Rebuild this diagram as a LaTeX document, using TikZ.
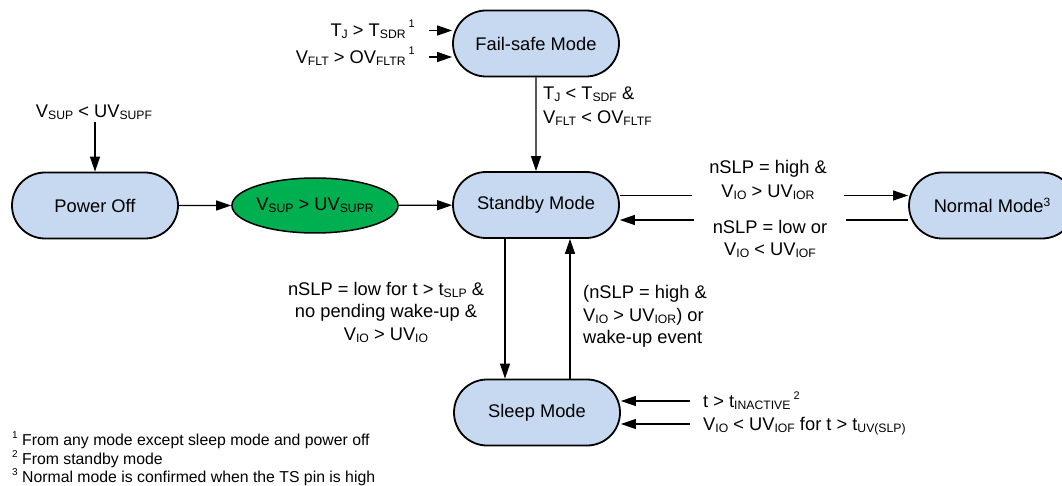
\documentclass[tikz,border=0pt]{standalone}
\usepackage{fontspec}
\setmainfont{Liberation Sans}
\usetikzlibrary{arrows.meta,shapes.misc,shapes.geometric}
\definecolor{boxblue}{HTML}{C6D9F0}
\definecolor{okgreen}{HTML}{00B050}
\newcommand\sbs[1]{\raisebox{-2pt}{\fontsize{12.2}{12}\selectfont #1}}
\newcommand\sps[1]{\raisebox{9pt}{\fontsize{11}{11}\selectfont #1}}
\newcommand\fns[1]{\raisebox{7pt}{\fontsize{10}{10}\selectfont #1}}
\begin{document}
\begin{tikzpicture}[x=1pt,y=-1pt,
  mode/.style={rounded rectangle, draw, fill=boxblue, line width=1.8pt,
    minimum width=166pt, minimum height=66pt, inner sep=0pt,
    font=\fontsize{18.3}{22}\selectfont},
  lbl/.style={inner sep=2pt, font=\fontsize{18.3}{23}\selectfont},
  fn/.style={inner sep=0pt, font=\fontsize{15.8}{19}\selectfont},
  arr/.style={line width=1.2pt, -{Triangle[length=15pt,width=10pt]}},
  ln/.style={line width=1.2pt}]
\clip (0,0) rectangle (1062,486);
\fill[white] (0,0) rectangle (1062,486);

% states
\node[mode] (fs) at (536,43.5) {Fail-safe Mode};
\node[mode] (sb) at (536,205) {Standby Mode};
\node[mode] (po) at (95,205.5) {Power Off};
\node[mode] (nm) at (992,205.5) {Normal Mode\raisebox{6pt}{\fontsize{12}{12}\selectfont 3}};
\node[mode] (sl) at (537,412.5) {Sleep Mode};
\node[ellipse, draw, fill=okgreen, line width=1.5pt, minimum width=160pt,
  minimum height=55pt, inner sep=0pt, font=\fontsize{18.3}{22}\selectfont]
  (gr) at (315,205.5) {V\sbs{SUP} > UV\sbs{SUPR}};

% power off input
\node[lbl, anchor=base] (lsup) at (94,118) {V\sbs{SUP} < UV\sbs{SUPF}};
\draw[arr] (po.north |- lsup.south) -- (po.north);
\draw[arr] (po) -- (gr);
\draw[arr] (gr) -- (sb);

% fail-safe inputs
\node[lbl, anchor=base east] (ltj) at (417,37) {T\sbs{J} > T\sbs{SDR}\,\sps{1}};
\node[lbl, anchor=base east] (lflt) at (417,63.5) {V\sbs{FLT} > OV\sbs{FLTR}\,\sps{1}};
\coordinate (f1) at (429,30.5);
\coordinate (f2) at (429,57);
\draw[arr] (f1) -- (f1 -| fs.west);
\draw[arr] (f2) -- (f2 -| fs.west);

% fail-safe -> standby
\draw[arr] (fs) -- (sb);
\node[lbl, align=left, anchor=west,
  font=\fontsize{18.3}{24.5}\selectfont] (lfs) at (541,106)
  {T\sbs{J} < T\sbs{SDF} \&\\V\sbs{FLT} < OV\sbs{FLTF}};

% standby <-> normal
\draw[arr] ([yshift=9.5pt]sb.east) -- ([yshift=9.5pt]sb.east -| nm.west);
\draw[arr] ([yshift=-14.5pt]nm.west) -- ([yshift=-14.5pt]nm.west -| sb.east);
\node[lbl, fill=white, align=center, minimum width=152pt, inner sep=2pt,
  font=\fontsize{18.3}{24}\selectfont] (lhi) at (768,179.5)
  {nSLP = high \&\\V\sbs{IO} > UV\sbs{IOR}};
\node[lbl, fill=white, align=center, minimum width=152pt, inner sep=2pt,
  font=\fontsize{18.3}{22}\selectfont] (llo) at (770,239)
  {nSLP = low or\\V\sbs{IO} < UV\sbs{IOF}};

% standby <-> sleep
\draw[arr] ([xshift=-31pt]sb.south) -- ([xshift=-31pt]sb.south |- sl.north);
\draw[arr] ([xshift=34pt]sb.south |- sl.north) -- ([xshift=34pt]sb.south);
\node[lbl, align=center, font=\fontsize{18.3}{22.5}\selectfont] (ldn) at (386,312)
  {nSLP = low for t > t\sbs{SLP} \&\\no pending wake-up \&\\V\sbs{IO} > UV\sbs{IO}};
\node[lbl, align=left, anchor=west, font=\fontsize{18.3}{22.5}\selectfont] (lup) at (581,316.5)
  {(nSLP = high \&\\V\sbs{IO} > UV\sbs{IOR}) or\\wake-up event};

% sleep inputs
\coordinate (s1) at (690,401);
\coordinate (s2) at (690,424);
\draw[arr] (s1) -- (s1 -| sl.east);
\draw[arr] (s2) -- (s2 -| sl.east);
\node[lbl, anchor=base west, inner sep=0pt] (lin) at (703,407.5)
  {t > t\sbs{INACTIVE}\,\raisebox{8pt}{\fontsize{11}{11}\selectfont 2}};
\node[lbl, anchor=base west, inner sep=0pt] (luv) at (703,430.5)
  {V\sbs{IO} < UV\sbs{IOF} for t > t\sbs{UV(SLP)}};

% footnotes
\node[fn, anchor=base west] (fn1) at (12,445) {\fns{1} From any mode except sleep mode and power off};
\node[fn, anchor=base west] (fn2) at (12,464) {\fns{2} From standby mode};
\node[fn, anchor=base west] (fn3) at (12,482) {\fns{3} Normal mode is confirmed when the TS pin is high};
\end{tikzpicture}
\end{document}
